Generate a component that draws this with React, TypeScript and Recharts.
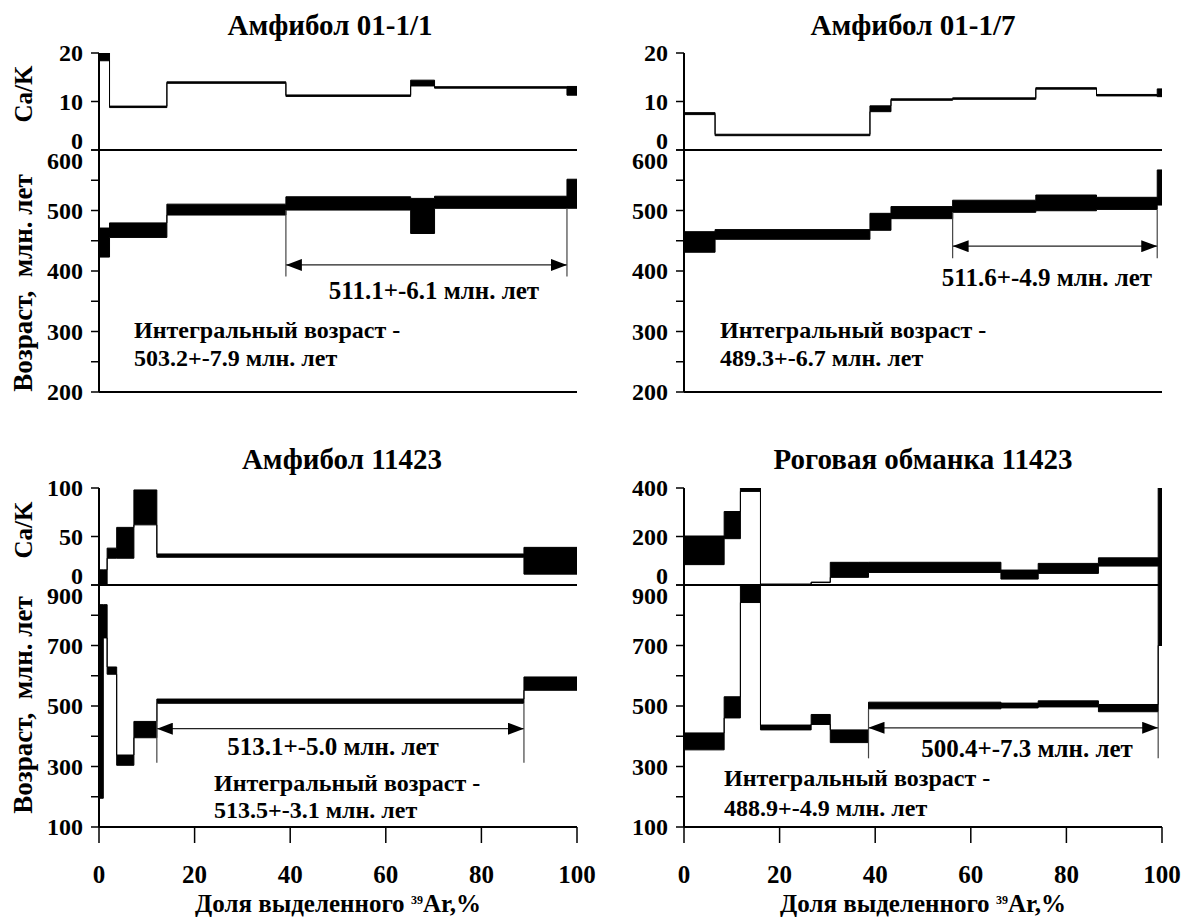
import React from 'react';
import { ComposedChart, Area, XAxis, YAxis, ReferenceLine } from 'recharts';

const FONT = '"Liberation Serif", "DejaVu Serif", serif';

// Амфибол 01-1/1 : start of each step (% 39Ar), Ca/K and age (млн. лет) with 1 sigma
const a1Steps = [0, 2.2, 14.2, 39.1, 65.2, 70.2, 97.9];
const a1CaK = [19.2, 8.9, 13.9, 11.2, 13.8, 12.9, 12.2];
const a1CaKErr = [0.8, 0.15, 0.15, 0.15, 0.6, 0.15, 0.9];
const a1Age = [447, 467.5, 501.5, 511.7, 491, 513.6, 527.7];
const a1AgeErr = [24, 12, 9, 11, 29, 10, 24];

// Амфибол 01-1/7
const a7Steps = [0, 6.5, 38.9, 43.3, 56.2, 73.6, 86.3, 99];
const a7CaK = [7.5, 3.1, 8.5, 10.4, 10.6, 12.7, 11.3, 11.8];
const a7CaKErr = [0.2, 0.15, 0.6, 0.15, 0.15, 0.15, 0.15, 0.8];
const a7Age = [448, 460.4, 481.3, 496.5, 507, 512.6, 511.8, 538];
const a7AgeErr = [17, 8, 14, 10, 10, 13, 10, 29];

// Амфибол 11423
const bSteps = [0, 0.9, 1.7, 3.7, 7.3, 12.1, 88.9];
const bCaK = [7.8, 7.8, 32.8, 43.5, 80, 30.3, 25];
const bCaKErr = [7.8, 7.8, 5.2, 15.9, 18, 1.7, 13.8];
const bAge = [515, 780, 617, 321, 422, 516, 574];
const bAgeErr = [320, 55, 12, 17, 27, 7, 22];

// Роговая обманка 11423
const hSteps = [0, 8.4, 11.8, 16, 26.6, 30.6, 38.6, 66.3, 74.1, 86.7, 99.2];
const hCaK = [143, 247, 393, 3, 11, 62.5, 72.7, 43, 68.5, 95, 200];
const hCaKErr = [59, 56, 7, 1, 1, 31, 21, 18.6, 20.6, 17, 200];
const hAge = [383, 495.5, 871, 429, 455.5, 400, 501.7, 501.6, 507, 493, 800];
const hAgeErr = [28, 35, 29, 8, 16.5, 21, 11, 8, 10, 12, 100];

// plateau: from %, to %, arrow level, lower end of the side lines
const a1Plateau = [39.1, 97.9, 410, 391];
const a7Plateau = [56.2, 99, 441, 421];
const bPlateau = [12.1, 88.9, 425, 312];
const hPlateau = [38.6, 99.2, 428, 327];

const titles = ['Амфибол 01-1/1', 'Амфибол 01-1/7', 'Амфибол 11423', 'Роговая обманка 11423'];
const plateauTexts = ['511.1+-6.1 млн. лет', '511.6+-4.9 млн. лет', '513.1+-5.0 млн. лет', '500.4+-7.3 млн. лет'];
const integralTexts = ['503.2+-7.9 млн. лет', '489.3+-6.7 млн. лет', '513.5+-3.1 млн. лет', '488.9+-4.9 млн. лет'];

const xTicks = [0, 20, 40, 60, 80, 100];
const innerXTicks = [20, 40, 60, 80];

type Row = { x: number; caK: [number, number]; age: [number, number] };

function buildRows(steps: number[], caK: number[], caKErr: number[], age: number[], ageErr: number[]): Row[] {
  const rows: Row[] = steps.map((x, i) => ({
    x,
    caK: [caK[i] - caKErr[i], caK[i] + caKErr[i]],
    age: [age[i] - ageErr[i], age[i] + ageErr[i]],
  }));
  rows.push({ ...rows[rows.length - 1], x: 100 });
  return rows;
}

const yTick = (labels: number[], up: number | null, down: number | null) => (p: any) => {
  const v = p.payload.value;
  if (!labels.includes(v)) return <g />;
  const dy = v === up ? -1 : v === down ? 19 : 8;
  return (
    <text x={p.x} y={p.y} dy={dy} textAnchor="end" fontFamily={FONT} fontWeight="bold" fontSize={24} fill="#000">
      {v}
    </text>
  );
};

const xTick = (p: any) => (
  <text x={p.x} y={p.y} dy={38} textAnchor="middle" fontFamily={FONT} fontWeight="bold" fontSize={25} fill="#000">
    {p.payload.value}
  </text>
);

const arrowShape = (p: any) => (
  <line x1={p.x1} y1={p.y1} x2={p.x2} y2={p.y2} stroke="#222" strokeWidth={1.3}
    markerStart="url(#arrowHead)" markerEnd="url(#arrowHead)" />
);

const sideShape = (p: any) => (
  <line x1={p.x1} y1={p.y1} x2={p.x2} y2={p.y2} stroke="#444" strokeWidth={1.2} />
);

const AXIS = { stroke: '#000', strokeWidth: 2 };
const TICK = { stroke: '#000', strokeWidth: 1.5 };
const PLOT_W = 478;
const CA_H = 97;
const AGE_H = 242;
const YW = 70;
const MR = 30;
const CA_MT = 20;

type PanelProps = {
  rows: Row[];
  plotL: number;
  caTop: number;
  caDomain: [number, number];
  caTicks: number[];
  ageDomain: [number, number];
  ageTicks: number[];
  ageLabels: number[];
  plateau: number[];
  xLabels: boolean;
};

function Panel({ rows, plotL, caTop, caDomain, caTicks, ageDomain, ageTicks, ageLabels, plateau, xLabels }: PanelProps) {
  const [from, to, level, low] = plateau;
  const startRow = rows.find((r) => r.x === from)!;
  const endRow = rows.filter((r) => r.x < to).pop()!;
  const xh = xLabels ? 75 : 22;
  const w = YW + PLOT_W + MR;

  return (
    <>
      <div style={{ position: 'absolute', left: plotL - YW, top: caTop + CA_H - 12 }}>
        <ComposedChart width={w} height={12 + AGE_H + xh} data={rows} margin={{ top: 12, right: MR, left: 0, bottom: 0 }}>
          <XAxis dataKey="x" type="number" domain={[0, 100]} ticks={xTicks} interval={0} allowDataOverflow
            axisLine={AXIS} tickLine={TICK} tickSize={16} height={xh} tick={xLabels ? xTick : false} />
          <XAxis xAxisId="t" dataKey="x" type="number" orientation="top" domain={[0, 100]} ticks={innerXTicks}
            interval={0} allowDataOverflow height={0} axisLine={AXIS} tickLine={TICK} tickSize={9} tick={false} />
          <YAxis type="number" domain={ageDomain} ticks={ageTicks} interval={0} allowDataOverflow width={YW}
            axisLine={AXIS} tickLine={TICK} tickSize={8} tickMargin={8} tick={yTick(ageLabels, null, ageDomain[1])} />
          <YAxis yAxisId="in" type="number" domain={ageDomain} ticks={ageTicks} interval={0} allowDataOverflow
            mirror axisLine={false} tickLine={TICK} tickSize={7} tick={false} />
          <YAxis yAxisId="r" orientation="right" type="number" domain={ageDomain} allowDataOverflow width={0}
            axisLine={AXIS} tickLine={false} tick={false} />
          <Area dataKey="age" type="stepAfter" fill="#000" fillOpacity={1} stroke="#000" strokeWidth={1}
            dot={false} activeDot={false} isAnimationActive={false} />
          <ReferenceLine segment={[{ x: from, y: level }, { x: to, y: level }]} shape={arrowShape} />
          <ReferenceLine segment={[{ x: from, y: low }, { x: from, y: startRow.age[0] }]} shape={sideShape} />
          <ReferenceLine segment={[{ x: to, y: low }, { x: to, y: endRow.age[0] }]} shape={sideShape} />
        </ComposedChart>
      </div>
      <div style={{ position: 'absolute', left: plotL - YW, top: caTop - CA_MT }}>
        <ComposedChart width={w} height={CA_MT + CA_H + 22} data={rows} margin={{ top: CA_MT, right: MR, left: 0, bottom: 0 }}>
          <XAxis dataKey="x" type="number" domain={[0, 100]} ticks={innerXTicks} interval={0} allowDataOverflow
            axisLine={AXIS} tickLine={TICK} tickSize={14} height={22} tick={false} />
          <XAxis xAxisId="t" dataKey="x" type="number" orientation="top" domain={[0, 100]} allowDataOverflow
            height={0} axisLine={AXIS} tickLine={false} tick={false} />
          <YAxis type="number" domain={caDomain} ticks={caTicks} interval={0} allowDataOverflow width={YW}
            axisLine={AXIS} tickLine={TICK} tickSize={8} tickMargin={8} tick={yTick(caTicks, caDomain[0], null)} />
          <YAxis yAxisId="in" type="number" domain={caDomain} ticks={caTicks} interval={0} allowDataOverflow
            mirror axisLine={false} tickLine={TICK} tickSize={7} tick={false} />
          <YAxis yAxisId="r" orientation="right" type="number" domain={caDomain} allowDataOverflow width={0}
            axisLine={AXIS} tickLine={false} tick={false} />
          <Area dataKey="caK" type="stepAfter" fill="#000" fillOpacity={1} stroke="#000" strokeWidth={1}
            dot={false} activeDot={false} isAnimationActive={false} />
        </ComposedChart>
      </div>
    </>
  );
}

function Txt({ x, y, size = 24, anchor = 'middle', children }: { x: number; y: number; size?: number; anchor?: string; children: React.ReactNode }) {
  const tx = anchor === 'middle' ? '-50%' : '0';
  return (
    <div style={{ position: 'absolute', left: x, top: y, transform: `translate(${tx}, -50%)`, fontSize: size, lineHeight: 1, whiteSpace: 'nowrap' }}>
      {children}
    </div>
  );
}

function VTxt({ x, y, size = 25, children }: { x: number; y: number; size?: number; children: React.ReactNode }) {
  return (
    <div style={{ position: 'absolute', left: x, top: y, transform: 'translate(-50%, -50%) rotate(-90deg)', fontSize: size, lineHeight: 1, whiteSpace: 'pre' }}>
      {children}
    </div>
  );
}

const XTitle = ({ x }: { x: number }) => (
  <Txt x={x} y={903} size={25}>
    Доля выделенного <sup style={{ fontSize: 12, verticalAlign: 8 }}>39</sup>Ar,%
  </Txt>
);

export default function App() {
  const rows1 = buildRows(a1Steps, a1CaK, a1CaKErr, a1Age, a1AgeErr);
  const rows7 = buildRows(a7Steps, a7CaK, a7CaKErr, a7Age, a7AgeErr);
  const rowsB = buildRows(bSteps, bCaK, bCaKErr, bAge, bAgeErr);
  const rowsH = buildRows(hSteps, hCaK, hCaKErr, hAge, hAgeErr);
  const topAgeTicks = [200, 250, 300, 350, 400, 450, 500, 550, 600];
  const topAgeLabels = [200, 300, 400, 500, 600];
  const botAgeTicks = [100, 200, 300, 400, 500, 600, 700, 800, 900];
  const botAgeLabels = [100, 300, 500, 700, 900];

  return (
    <div style={{ position: 'absolute', left: 0, top: 0, width: 1182, height: 919, background: '#fff', fontFamily: FONT, fontWeight: 'bold', color: '#000', overflow: 'hidden' }}>
      <svg width={0} height={0} style={{ position: 'absolute' }}>
        <defs>
          <marker id="arrowHead" viewBox="0 0 16 12" refX={16} refY={6} markerWidth={16} markerHeight={12}
            markerUnits="userSpaceOnUse" orient="auto-start-reverse">
            <path d="M0,0 L16,6 L0,12 Z" fill="#000" />
          </marker>
        </defs>
      </svg>

      <Panel rows={rows1} plotL={99} caTop={53} caDomain={[0, 20]} caTicks={[0, 10, 20]}
        ageDomain={[200, 600]} ageTicks={topAgeTicks} ageLabels={topAgeLabels} plateau={a1Plateau} xLabels={false} />
      <Panel rows={rows7} plotL={684} caTop={53} caDomain={[0, 20]} caTicks={[0, 10, 20]}
        ageDomain={[200, 600]} ageTicks={topAgeTicks} ageLabels={topAgeLabels} plateau={a7Plateau} xLabels={false} />
      <Panel rows={rowsB} plotL={99} caTop={488} caDomain={[0, 100]} caTicks={[0, 50, 100]}
        ageDomain={[100, 900]} ageTicks={botAgeTicks} ageLabels={botAgeLabels} plateau={bPlateau} xLabels />
      <Panel rows={rowsH} plotL={684} caTop={488} caDomain={[0, 400]} caTicks={[0, 200, 400]}
        ageDomain={[100, 900]} ageTicks={botAgeTicks} ageLabels={botAgeLabels} plateau={hPlateau} xLabels />

      <Txt x={330} y={25} size={29}>{titles[0]}</Txt>
      <Txt x={913} y={25} size={29}>{titles[1]}</Txt>
      <Txt x={342} y={459} size={29}>{titles[2]}</Txt>
      <Txt x={923} y={459} size={29}>{titles[3]}</Txt>

      <Txt x={434} y={290} size={25}>{plateauTexts[0]}</Txt>
      <Txt x={1047} y={277} size={25}>{plateauTexts[1]}</Txt>
      <Txt x={333} y={746} size={25}>{plateauTexts[2]}</Txt>
      <Txt x={1027} y={748} size={25}>{plateauTexts[3]}</Txt>

      <Txt x={134} y={330} anchor="start">Интегральный возраст -</Txt>
      <Txt x={134} y={358} anchor="start">{integralTexts[0]}</Txt>
      <Txt x={720} y={330} anchor="start">Интегральный возраст -</Txt>
      <Txt x={720} y={358} anchor="start">{integralTexts[1]}</Txt>
      <Txt x={214} y={783} anchor="start">Интегральный возраст -</Txt>
      <Txt x={214} y={810} anchor="start">{integralTexts[2]}</Txt>
      <Txt x={724} y={778} anchor="start">Интегральный возраст -</Txt>
      <Txt x={724} y={808} anchor="start">{integralTexts[3]}</Txt>

      <VTxt x={23} y={94}>Ca/K</VTxt>
      <VTxt x={23} y={283} size={27}>{'Возраст,  млн. лет'}</VTxt>
      <VTxt x={23} y={530}>Ca/K</VTxt>
      <VTxt x={23} y={705} size={27}>{'Возраст,  млн. лет'}</VTxt>

      <XTitle x={338} />
      <XTitle x={923} />
    </div>
  );
}
